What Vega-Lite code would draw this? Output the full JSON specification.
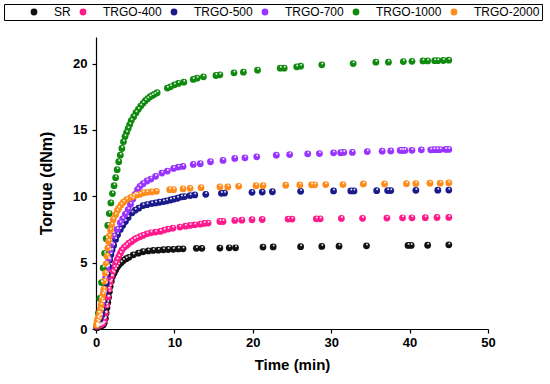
{
 "$schema": "https://vega.github.io/schema/vega-lite/v6.json",
 "width": 392, "height": 292,
 "autosize": {"type": "none"},
 "padding": {"left": 96, "top": 37, "right": 62, "bottom": 55},
 "background": "white",
 "config": {"view": {"stroke": null}, "font": "Liberation Sans"},
 "datasets": {
  "d": [
   {"s":"SR","t":0.1,"v":0.1},{"s":"SR","t":0.3,"v":0.15},{"s":"SR","t":0.5,"v":0.2},{"s":"SR","t":0.7,"v":0.25},{"s":"SR","t":0.9,"v":0.3},{"s":"SR","t":1.05,"v":0.45},{"s":"SR","t":1.2,"v":0.8},{"s":"SR","t":1.3,"v":1.2},{"s":"SR","t":1.4,"v":1.6},{"s":"SR","t":1.5,"v":2.0},{"s":"SR","t":1.6,"v":2.4},{"s":"SR","t":1.7,"v":2.8},{"s":"SR","t":1.8,"v":3.2},{"s":"SR","t":1.95,"v":3.6},{"s":"SR","t":2.1,"v":3.95},{"s":"SR","t":2.3,"v":4.2},{"s":"SR","t":2.5,"v":4.45},{"s":"SR","t":2.7,"v":4.65},{"s":"SR","t":2.9,"v":4.83},{"s":"SR","t":3.2,"v":5.0},{"s":"SR","t":3.5,"v":5.16},{"s":"SR","t":3.85,"v":5.3},{"s":"SR","t":4.2,"v":5.4},{"s":"SR","t":4.76,"v":5.59},{"s":"SR","t":5.4,"v":5.71},{"s":"SR","t":6.0,"v":5.82},{"s":"SR","t":6.67,"v":5.88},{"s":"SR","t":7.3,"v":5.92},{"s":"SR","t":7.95,"v":5.94},{"s":"SR","t":8.6,"v":5.97},{"s":"SR","t":9.2,"v":5.99},{"s":"SR","t":9.86,"v":6.0},{"s":"SR","t":10.5,"v":6.03},{"s":"SR","t":11.1,"v":6.04},{"s":"SR","t":12.8,"v":6.08},{"s":"SR","t":13.5,"v":6.08},{"s":"SR","t":15.8,"v":6.1},{"s":"SR","t":17.0,"v":6.12},{"s":"SR","t":17.8,"v":6.12},{"s":"SR","t":21.3,"v":6.17},{"s":"SR","t":22.6,"v":6.18},{"s":"SR","t":26.1,"v":6.2},{"s":"SR","t":28.8,"v":6.22},{"s":"SR","t":31.0,"v":6.24},{"s":"SR","t":34.5,"v":6.27},{"s":"SR","t":39.8,"v":6.3},{"s":"SR","t":40.2,"v":6.3},{"s":"SR","t":42.3,"v":6.31},{"s":"SR","t":45.0,"v":6.34},

   {"s":"TRGO-400","t":0.1,"v":0.2},{"s":"TRGO-400","t":0.3,"v":0.25},{"s":"TRGO-400","t":0.5,"v":0.3},{"s":"TRGO-400","t":0.7,"v":0.35},{"s":"TRGO-400","t":0.9,"v":0.45},{"s":"TRGO-400","t":1.05,"v":0.7},{"s":"TRGO-400","t":1.2,"v":1.2},{"s":"TRGO-400","t":1.35,"v":1.8},{"s":"TRGO-400","t":1.5,"v":2.4},{"s":"TRGO-400","t":1.65,"v":3.0},{"s":"TRGO-400","t":1.8,"v":3.5},{"s":"TRGO-400","t":1.95,"v":3.95},{"s":"TRGO-400","t":2.1,"v":4.3},{"s":"TRGO-400","t":2.3,"v":4.65},{"s":"TRGO-400","t":2.5,"v":4.95},{"s":"TRGO-400","t":2.7,"v":5.2},{"s":"TRGO-400","t":2.9,"v":5.45},{"s":"TRGO-400","t":3.1,"v":5.7},{"s":"TRGO-400","t":3.3,"v":5.95},{"s":"TRGO-400","t":3.6,"v":6.15},{"s":"TRGO-400","t":3.9,"v":6.3},{"s":"TRGO-400","t":4.2,"v":6.47},{"s":"TRGO-400","t":4.55,"v":6.6},{"s":"TRGO-400","t":4.9,"v":6.75},{"s":"TRGO-400","t":5.2,"v":6.85},{"s":"TRGO-400","t":5.6,"v":6.95},{"s":"TRGO-400","t":6.0,"v":7.05},{"s":"TRGO-400","t":6.5,"v":7.17},{"s":"TRGO-400","t":7.0,"v":7.25},{"s":"TRGO-400","t":7.6,"v":7.3},{"s":"TRGO-400","t":8.2,"v":7.35},{"s":"TRGO-400","t":8.7,"v":7.45},{"s":"TRGO-400","t":9.2,"v":7.53},{"s":"TRGO-400","t":9.8,"v":7.6},{"s":"TRGO-400","t":10.7,"v":7.68},{"s":"TRGO-400","t":11.4,"v":7.75},{"s":"TRGO-400","t":12.0,"v":7.8},{"s":"TRGO-400","t":12.6,"v":7.85},{"s":"TRGO-400","t":13.3,"v":7.9},{"s":"TRGO-400","t":13.8,"v":7.95},{"s":"TRGO-400","t":14.3,"v":7.98},{"s":"TRGO-400","t":15.8,"v":8.1},{"s":"TRGO-400","t":16.2,"v":8.1},{"s":"TRGO-400","t":17.7,"v":8.18},{"s":"TRGO-400","t":18.6,"v":8.2},{"s":"TRGO-400","t":19.9,"v":8.23},{"s":"TRGO-400","t":21.2,"v":8.25},{"s":"TRGO-400","t":24.5,"v":8.28},{"s":"TRGO-400","t":25.0,"v":8.28},{"s":"TRGO-400","t":28.1,"v":8.3},{"s":"TRGO-400","t":28.6,"v":8.3},{"s":"TRGO-400","t":31.3,"v":8.33},{"s":"TRGO-400","t":34.0,"v":8.34},{"s":"TRGO-400","t":37.1,"v":8.36},{"s":"TRGO-400","t":39.1,"v":8.38},{"s":"TRGO-400","t":40.3,"v":8.38},{"s":"TRGO-400","t":42.0,"v":8.39},{"s":"TRGO-400","t":43.5,"v":8.4},{"s":"TRGO-400","t":45.0,"v":8.41},

   {"s":"TRGO-500","t":0.1,"v":0.3},{"s":"TRGO-500","t":0.3,"v":0.5},{"s":"TRGO-500","t":0.5,"v":0.7},{"s":"TRGO-500","t":0.7,"v":1.0},{"s":"TRGO-500","t":0.85,"v":1.4},{"s":"TRGO-500","t":1.0,"v":2.0},{"s":"TRGO-500","t":1.15,"v":2.7},{"s":"TRGO-500","t":1.3,"v":3.4},{"s":"TRGO-500","t":1.45,"v":4.1},{"s":"TRGO-500","t":1.6,"v":4.7},{"s":"TRGO-500","t":1.75,"v":5.2},{"s":"TRGO-500","t":1.9,"v":5.6},{"s":"TRGO-500","t":2.05,"v":5.95},{"s":"TRGO-500","t":2.25,"v":6.3},{"s":"TRGO-500","t":2.5,"v":6.75},{"s":"TRGO-500","t":2.75,"v":7.1},{"s":"TRGO-500","t":3.1,"v":7.5},{"s":"TRGO-500","t":3.4,"v":7.8},{"s":"TRGO-500","t":3.75,"v":8.1},{"s":"TRGO-500","t":4.1,"v":8.4},{"s":"TRGO-500","t":4.6,"v":8.75},{"s":"TRGO-500","t":5.0,"v":8.95},{"s":"TRGO-500","t":5.45,"v":9.1},{"s":"TRGO-500","t":6.0,"v":9.3},{"s":"TRGO-500","t":6.5,"v":9.37},{"s":"TRGO-500","t":7.1,"v":9.45},{"s":"TRGO-500","t":7.6,"v":9.5},{"s":"TRGO-500","t":8.1,"v":9.55},{"s":"TRGO-500","t":8.6,"v":9.6},{"s":"TRGO-500","t":9.0,"v":9.65},{"s":"TRGO-500","t":9.5,"v":9.72},{"s":"TRGO-500","t":9.9,"v":9.78},{"s":"TRGO-500","t":10.4,"v":9.85},{"s":"TRGO-500","t":10.9,"v":9.95},{"s":"TRGO-500","t":11.3,"v":9.98},{"s":"TRGO-500","t":12.0,"v":10.05},{"s":"TRGO-500","t":12.6,"v":10.1},{"s":"TRGO-500","t":14.0,"v":10.15},{"s":"TRGO-500","t":16.0,"v":10.22},{"s":"TRGO-500","t":16.4,"v":10.24},{"s":"TRGO-500","t":19.9,"v":10.3},{"s":"TRGO-500","t":21.2,"v":10.32},{"s":"TRGO-500","t":22.5,"v":10.34},{"s":"TRGO-500","t":26.1,"v":10.37},{"s":"TRGO-500","t":30.3,"v":10.4},{"s":"TRGO-500","t":32.5,"v":10.4},{"s":"TRGO-500","t":32.9,"v":10.4},{"s":"TRGO-500","t":35.8,"v":10.42},{"s":"TRGO-500","t":37.2,"v":10.43},{"s":"TRGO-500","t":37.6,"v":10.43},{"s":"TRGO-500","t":40.8,"v":10.45},{"s":"TRGO-500","t":43.6,"v":10.46},{"s":"TRGO-500","t":45.0,"v":10.47},

   {"s":"TRGO-700","t":0.2,"v":0.3},{"s":"TRGO-700","t":0.5,"v":1.0},{"s":"TRGO-700","t":0.8,"v":2.0},{"s":"TRGO-700","t":1.0,"v":2.8},{"s":"TRGO-700","t":1.2,"v":3.8},{"s":"TRGO-700","t":1.4,"v":4.6},{"s":"TRGO-700","t":1.6,"v":5.3},{"s":"TRGO-700","t":1.8,"v":5.9},{"s":"TRGO-700","t":2.0,"v":6.4},{"s":"TRGO-700","t":2.3,"v":7.0},{"s":"TRGO-700","t":2.7,"v":7.5},{"s":"TRGO-700","t":3.1,"v":8.0},{"s":"TRGO-700","t":3.4,"v":8.3},{"s":"TRGO-700","t":3.75,"v":8.65},{"s":"TRGO-700","t":4.1,"v":9.0},{"s":"TRGO-700","t":4.4,"v":9.4},{"s":"TRGO-700","t":4.7,"v":9.8},{"s":"TRGO-700","t":5.0,"v":10.15},{"s":"TRGO-700","t":5.3,"v":10.5},{"s":"TRGO-700","t":5.6,"v":10.75},{"s":"TRGO-700","t":6.0,"v":10.95},{"s":"TRGO-700","t":6.5,"v":11.15},{"s":"TRGO-700","t":7.0,"v":11.3},{"s":"TRGO-700","t":7.6,"v":11.5},{"s":"TRGO-700","t":8.4,"v":11.75},{"s":"TRGO-700","t":9.1,"v":11.9},{"s":"TRGO-700","t":9.9,"v":12.1},{"s":"TRGO-700","t":10.5,"v":12.2},{"s":"TRGO-700","t":11.1,"v":12.25},{"s":"TRGO-700","t":12.4,"v":12.4},{"s":"TRGO-700","t":13.3,"v":12.45},{"s":"TRGO-700","t":14.6,"v":12.6},{"s":"TRGO-700","t":16.2,"v":12.7},{"s":"TRGO-700","t":17.7,"v":12.85},{"s":"TRGO-700","t":19.0,"v":12.9},{"s":"TRGO-700","t":20.5,"v":12.97},{"s":"TRGO-700","t":23.0,"v":13.1},{"s":"TRGO-700","t":24.7,"v":13.14},{"s":"TRGO-700","t":27.0,"v":13.2},{"s":"TRGO-700","t":28.5,"v":13.22},{"s":"TRGO-700","t":30.3,"v":13.27},{"s":"TRGO-700","t":31.2,"v":13.28},{"s":"TRGO-700","t":31.6,"v":13.3},{"s":"TRGO-700","t":32.7,"v":13.3},{"s":"TRGO-700","t":34.6,"v":13.37},{"s":"TRGO-700","t":36.5,"v":13.4},{"s":"TRGO-700","t":37.6,"v":13.42},{"s":"TRGO-700","t":38.8,"v":13.45},{"s":"TRGO-700","t":39.1,"v":13.45},{"s":"TRGO-700","t":39.4,"v":13.45},{"s":"TRGO-700","t":40.3,"v":13.46},{"s":"TRGO-700","t":41.5,"v":13.5},{"s":"TRGO-700","t":42.7,"v":13.5},{"s":"TRGO-700","t":43.1,"v":13.51},{"s":"TRGO-700","t":43.5,"v":13.51},{"s":"TRGO-700","t":43.9,"v":13.52},{"s":"TRGO-700","t":44.6,"v":13.53},{"s":"TRGO-700","t":45.0,"v":13.53},

   {"s":"TRGO-1000","t":0.1,"v":0.3},{"s":"TRGO-1000","t":0.3,"v":1.2},{"s":"TRGO-1000","t":0.5,"v":2.3},{"s":"TRGO-1000","t":0.7,"v":3.5},{"s":"TRGO-1000","t":0.9,"v":4.6},{"s":"TRGO-1000","t":1.1,"v":5.7},{"s":"TRGO-1000","t":1.3,"v":6.8},{"s":"TRGO-1000","t":1.5,"v":7.8},{"s":"TRGO-1000","t":1.7,"v":8.7},{"s":"TRGO-1000","t":1.9,"v":9.5},{"s":"TRGO-1000","t":2.1,"v":10.2},{"s":"TRGO-1000","t":2.3,"v":10.8},{"s":"TRGO-1000","t":2.5,"v":11.4},{"s":"TRGO-1000","t":2.7,"v":12.0},{"s":"TRGO-1000","t":2.9,"v":12.6},{"s":"TRGO-1000","t":3.1,"v":13.1},{"s":"TRGO-1000","t":3.3,"v":13.6},{"s":"TRGO-1000","t":3.5,"v":14.1},{"s":"TRGO-1000","t":3.7,"v":14.5},{"s":"TRGO-1000","t":3.9,"v":14.8},{"s":"TRGO-1000","t":4.1,"v":15.1},{"s":"TRGO-1000","t":4.3,"v":15.4},{"s":"TRGO-1000","t":4.5,"v":15.7},{"s":"TRGO-1000","t":4.8,"v":16.0},{"s":"TRGO-1000","t":5.1,"v":16.3},{"s":"TRGO-1000","t":5.4,"v":16.55},{"s":"TRGO-1000","t":5.7,"v":16.8},{"s":"TRGO-1000","t":6.0,"v":17.0},{"s":"TRGO-1000","t":6.3,"v":17.2},{"s":"TRGO-1000","t":6.6,"v":17.35},{"s":"TRGO-1000","t":6.9,"v":17.5},{"s":"TRGO-1000","t":7.2,"v":17.6},{"s":"TRGO-1000","t":7.5,"v":17.7},{"s":"TRGO-1000","t":7.8,"v":17.8},{"s":"TRGO-1000","t":9.1,"v":18.15},{"s":"TRGO-1000","t":9.5,"v":18.25},{"s":"TRGO-1000","t":10.0,"v":18.4},{"s":"TRGO-1000","t":10.5,"v":18.5},{"s":"TRGO-1000","t":11.2,"v":18.6},{"s":"TRGO-1000","t":12.4,"v":18.8},{"s":"TRGO-1000","t":12.9,"v":18.9},{"s":"TRGO-1000","t":13.7,"v":19.0},{"s":"TRGO-1000","t":15.3,"v":19.1},{"s":"TRGO-1000","t":15.8,"v":19.15},{"s":"TRGO-1000","t":17.6,"v":19.3},{"s":"TRGO-1000","t":18.8,"v":19.35},{"s":"TRGO-1000","t":20.6,"v":19.5},{"s":"TRGO-1000","t":23.5,"v":19.65},{"s":"TRGO-1000","t":24.0,"v":19.65},{"s":"TRGO-1000","t":25.6,"v":19.75},{"s":"TRGO-1000","t":26.1,"v":19.8},{"s":"TRGO-1000","t":28.8,"v":19.9},{"s":"TRGO-1000","t":32.8,"v":20.0},{"s":"TRGO-1000","t":35.7,"v":20.1},{"s":"TRGO-1000","t":37.3,"v":20.1},{"s":"TRGO-1000","t":39.2,"v":20.15},{"s":"TRGO-1000","t":40.3,"v":20.17},{"s":"TRGO-1000","t":41.7,"v":20.2},{"s":"TRGO-1000","t":42.3,"v":20.2},{"s":"TRGO-1000","t":43.2,"v":20.22},{"s":"TRGO-1000","t":43.6,"v":20.22},{"s":"TRGO-1000","t":44.3,"v":20.23},{"s":"TRGO-1000","t":45.0,"v":20.25},

   {"s":"TRGO-2000","t":0.05,"v":0.3},{"s":"TRGO-2000","t":0.15,"v":0.6},{"s":"TRGO-2000","t":0.25,"v":0.8},{"s":"TRGO-2000","t":0.35,"v":0.9},{"s":"TRGO-2000","t":0.45,"v":1.2},{"s":"TRGO-2000","t":0.55,"v":1.45},{"s":"TRGO-2000","t":0.65,"v":1.8},{"s":"TRGO-2000","t":0.77,"v":2.2},{"s":"TRGO-2000","t":0.88,"v":2.6},{"s":"TRGO-2000","t":1.0,"v":3.0},{"s":"TRGO-2000","t":1.1,"v":3.6},{"s":"TRGO-2000","t":1.2,"v":4.2},{"s":"TRGO-2000","t":1.3,"v":4.9},{"s":"TRGO-2000","t":1.4,"v":5.5},{"s":"TRGO-2000","t":1.5,"v":6.1},{"s":"TRGO-2000","t":1.6,"v":6.6},{"s":"TRGO-2000","t":1.7,"v":7.0},{"s":"TRGO-2000","t":1.85,"v":7.45},{"s":"TRGO-2000","t":2.0,"v":7.85},{"s":"TRGO-2000","t":2.2,"v":8.25},{"s":"TRGO-2000","t":2.5,"v":8.6},{"s":"TRGO-2000","t":2.7,"v":8.9},{"s":"TRGO-2000","t":2.9,"v":9.1},{"s":"TRGO-2000","t":3.2,"v":9.35},{"s":"TRGO-2000","t":3.5,"v":9.55},{"s":"TRGO-2000","t":3.9,"v":9.75},{"s":"TRGO-2000","t":4.4,"v":9.9},{"s":"TRGO-2000","t":4.8,"v":10.0},{"s":"TRGO-2000","t":5.2,"v":10.1},{"s":"TRGO-2000","t":5.6,"v":10.15},{"s":"TRGO-2000","t":6.0,"v":10.25},{"s":"TRGO-2000","t":6.5,"v":10.3},{"s":"TRGO-2000","t":7.1,"v":10.33},{"s":"TRGO-2000","t":7.7,"v":10.37},{"s":"TRGO-2000","t":9.4,"v":10.5},{"s":"TRGO-2000","t":9.9,"v":10.5},{"s":"TRGO-2000","t":11.1,"v":10.55},{"s":"TRGO-2000","t":12.0,"v":10.6},{"s":"TRGO-2000","t":13.4,"v":10.65},{"s":"TRGO-2000","t":15.8,"v":10.7},{"s":"TRGO-2000","t":16.8,"v":10.7},{"s":"TRGO-2000","t":18.2,"v":10.75},{"s":"TRGO-2000","t":20.4,"v":10.8},{"s":"TRGO-2000","t":21.3,"v":10.8},{"s":"TRGO-2000","t":24.2,"v":10.83},{"s":"TRGO-2000","t":26.0,"v":10.85},{"s":"TRGO-2000","t":27.5,"v":10.86},{"s":"TRGO-2000","t":27.9,"v":10.86},{"s":"TRGO-2000","t":29.3,"v":10.88},{"s":"TRGO-2000","t":31.5,"v":10.88},{"s":"TRGO-2000","t":34.1,"v":10.93},{"s":"TRGO-2000","t":36.8,"v":10.93},{"s":"TRGO-2000","t":39.6,"v":10.95},{"s":"TRGO-2000","t":40.8,"v":10.96},{"s":"TRGO-2000","t":42.6,"v":10.98},{"s":"TRGO-2000","t":43.9,"v":10.99},{"s":"TRGO-2000","t":45.0,"v":11.0}
  ]
 },
 "data": {"name": "d"},
 "layer": [
  {
   "mark": {"type": "circle", "size": 46, "opacity": 1},
   "encoding": {
    "x": {"field": "t", "type": "quantitative", "scale": {"domain": [0, 50], "nice": false},
     "axis": {"title": "Time (min)", "values": [0,5,10,15,20,25,30,35,40,45,50],
      "labelExpr": "datum.value % 10 === 0 ? datum.label : ''", "labelOverlap": false, "labelFlush": false,
      "grid": false, "domainColor": "black", "tickColor": "black", "labelColor": "black", "titleColor": "black",
      "labelFontWeight": "bold", "labelFontSize": 13, "titleFontSize": 15, "titleFontWeight": "bold",
      "tickSize": 4, "labelPadding": 3, "titlePadding": 8, "domainWidth": 1.2, "tickWidth": 1.2}},
    "y": {"field": "v", "type": "quantitative", "scale": {"domain": [0, 22], "nice": false},
     "axis": {"title": "Torque (dNm)", "values": [0,2.5,5,7.5,10,12.5,15,17.5,20],
      "labelExpr": "datum.value % 5 === 0 ? datum.label : ''", "labelOverlap": false, "labelFlush": false,
      "grid": false, "domainColor": "black", "tickColor": "black", "labelColor": "black", "titleColor": "black",
      "labelFontWeight": "bold", "labelFontSize": 13, "titleFontSize": 16, "titleFontWeight": "bold",
      "tickSize": 4, "labelPadding": 5, "titlePadding": 18, "domainWidth": 1.2, "tickWidth": 1.2}},
    "color": {"field": "s", "type": "nominal",
     "scale": {"domain": ["SR","TRGO-400","TRGO-500","TRGO-700","TRGO-1000","TRGO-2000"],
      "range": ["#111111","#ff1a8c","#1a1a8c","#9933ff","#0f8a0f","#ff8c1a"]},
     "legend": {"orient": "none", "legendX": -92, "legendY": -33, "direction": "horizontal",
      "title": " ", "titleOrient": "left", "titleFontSize": 12, "titlePadding": 22,
      "strokeColor": "black", "padding": 2, "labelFontSize": 12, "labelColor": "black",
      "labelExpr": "datum.label === 'TRGO-2000' ? datum.label + ' ' : datum.label",
      "symbolType": "circle", "symbolSize": 46, "labelOffset": 14, "columnPadding": 6, "symbolStrokeWidth": 0}}
   }
  },
  {
   "mark": {"type": "circle", "size": 4, "color": "white", "opacity": 0.85, "xOffset": 0.5, "yOffset": -1.4},
   "encoding": {
    "x": {"field": "t", "type": "quantitative"},
    "y": {"field": "v", "type": "quantitative"}
   }
  }
 ]
}
